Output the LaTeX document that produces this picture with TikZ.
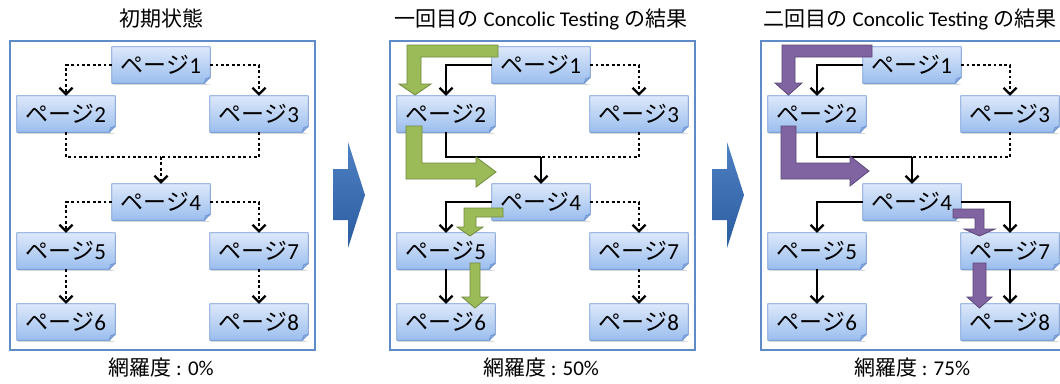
\documentclass[tikz,border=0pt]{standalone}
\usepackage{fontspec}
\setmainfont{Carlito}
\newfontfamily\cjk{Noto Sans CJK JP}
\usetikzlibrary{arrows.meta}
\definecolor{frameC}{RGB}{95,140,200}
\definecolor{pageTop}{RGB}{220,232,250}
\definecolor{pageBot}{RGB}{155,190,238}
\definecolor{pageEdge}{RGB}{110,150,212}
\definecolor{foldC}{RGB}{150,180,225}
\definecolor{bigTop}{RGB}{78,128,196}
\definecolor{bigBot}{RGB}{44,92,160}
\definecolor{grnF}{RGB}{155,187,89}
\definecolor{grnE}{RGB}{113,137,63}
\definecolor{purF}{RGB}{128,100,162}
\definecolor{purE}{RGB}{92,71,118}
\tikzset{
  frame/.style={draw=frameC, line width=1.3pt},
  pagebox/.style={rectangle, minimum width=98pt, minimum height=36pt, inner sep=0pt,
    top color=pageTop, bottom color=pageBot, font=\fontsize{23}{23}\selectfont},
  pageedge/.style={draw=pageEdge, line width=0.8pt, line join=round},
  pageshadow/.style={fill=black!16},
  solline/.style={line width=2.3pt, draw=black},
  dotline/.style={line width=2.8pt, draw=black, dash pattern=on 2.8pt off 2.6pt},
  tip/.style={-{Straight Barb[length=6.5pt,width=13pt,line width=2.2pt]}},
  title/.style={font=\fontsize{21}{21}\selectfont, inner sep=0pt},
  big/.style={top color=bigTop, bottom color=bigBot, draw=none},
  grn/.style={fill=grnF, draw=grnE, line width=0.8pt, line join=miter},
  pur/.style={fill=purF, draw=purE, line width=0.8pt, line join=miter}
}
\newcommand\pagebox[3]{%
  \coordinate (#1c) at (#2);
  \fill[pageshadow] ([shift={(-48pt,-20pt)}]#1c) rectangle ([shift={(50pt,16pt)}]#1c);
  \node[pagebox] (#1) at (#1c) {{\cjk ページ}#3};
  \fill[white] ([xshift=-6pt]#1.south east) -- ([xshift=2pt,yshift=-2pt]#1.south east) -- ([yshift=6pt]#1.south east) -- cycle;
  \draw[pageedge] (#1.north west) -- (#1.north east) -- ([yshift=6pt]#1.south east) -- ([xshift=-6pt]#1.south east) -- (#1.south west) -- cycle;
  \filldraw[pageedge, fill=foldC] ([yshift=6pt]#1.south east) -- ([xshift=-6pt]#1.south east) -- ([xshift=-4.5pt,yshift=4.5pt]#1.south east) -- cycle;
}
\newcommand\panel[1]{%
  \draw[frame] (10,41) rectangle (315,350);
  \pagebox{#1p1}{161,65}{1}
  \pagebox{#1p2}{66,114}{2}
  \pagebox{#1p3}{259,114}{3}
  \pagebox{#1p4}{161,202}{4}
  \pagebox{#1p5}{66,251}{5}
  \pagebox{#1p7}{259,251}{7}
  \pagebox{#1p6}{66,322}{6}
  \pagebox{#1p8}{259,322}{8}
  \coordinate (#1m) at (161,157);
}
\begin{document}
\begin{tikzpicture}[x=1pt,y=-1pt]
\path[use as bounding box, clip] (0,0) rectangle (1060,383);
\fill[white] (0,0) rectangle (1060,383);

% panels
\begin{scope}\panel{a}\end{scope}
\begin{scope}[xshift=380pt]\panel{b}\end{scope}
\begin{scope}[xshift=751pt]\panel{c}\end{scope}

% titles and coverage
\node[title] (ta) at (161,19) {{\cjk 初期状態}};
\node[title] (tb) at (541,19) {{\cjk 一回目の} Concolic Testing {\cjk の結果}};
\node[title] (tc) at (910,19) {{\cjk 二回目の} Concolic Testing {\cjk の結果}};
\node[title] (ra) at (161,368) {{\cjk 網羅度} : 0\%};
\node[title] (rb) at (541,368) {{\cjk 網羅度} : 50\%};
\node[title] (rc) at (912,368) {{\cjk 網羅度} : 75\%};

% panel a connectors
\draw[dotline, tip] (ap1.west) -| (ap2.north);
\draw[dotline, tip] (ap1.east) -| (ap3.north);
\draw[dotline] (ap2.south) |- (am);
\draw[dotline] (ap3.south) |- (am);
\draw[dotline, tip] (am) -- (ap4.north);
\draw[dotline, tip] (ap4.west) -| (ap5.north);
\draw[dotline, tip] (ap4.east) -| (ap7.north);
\draw[dotline, tip] (ap5.south) -- (ap6.north);
\draw[dotline, tip] (ap7.south) -- (ap8.north);

% panel b connectors
\draw[solline, tip] (bp1.west) -| (bp2.north);
\draw[dotline, tip] (bp1.east) -| (bp3.north);
\draw[solline] (bp2.south) |- (bm);
\draw[dotline] (bp3.south) |- (bm);
\draw[solline, tip] (bm) -- (bp4.north);
\draw[solline, tip] (bp4.west) -| (bp5.north);
\draw[dotline, tip] (bp4.east) -| (bp7.north);
\draw[solline, tip] (bp5.south) -- (bp6.north);
\draw[dotline, tip] (bp7.south) -- (bp8.north);

% panel c connectors
\draw[solline, tip] (cp1.west) -| (cp2.north);
\draw[dotline, tip] (cp1.east) -| (cp3.north);
\draw[solline] (cp2.south) |- (cm);
\draw[dotline] (cp3.south) |- (cm);
\draw[solline, tip] (cm) -- (cp4.north);
\draw[solline, tip] (cp4.west) -| (cp5.north);
\draw[solline, tip] (cp4.east) -| (cp7.north);
\draw[solline, tip] (cp5.south) -- (cp6.north);
\draw[solline, tip] (cp7.south) -- (cp8.north);

% big arrows between panels
\path[big] (333,169) -- (348,169) -- (348,142) -- (365,195) -- (348,248) -- (348,220) -- (333,220) -- cycle;
\path[big] (712,169) -- (727,169) -- (727,142) -- (744,195) -- (727,248) -- (727,220) -- (712,220) -- cycle;

% green path arrows (panel b)
\path[grn] (498,45) -- (407,45) -- (407,84) -- (399,84) -- (415,95) -- (431,84) -- (421,84) -- (421,57) -- (498,57) -- cycle;
\path[grn] (406,126) -- (406,179) -- (476,179) -- (476,187) -- (496,172) -- (476,157) -- (476,163) -- (422,163) -- (422,126) -- cycle;
\path[grn] (503,208) -- (464,208) -- (464,227) -- (457,227) -- (470,236) -- (483,227) -- (476,227) -- (476,217) -- (503,217) -- cycle;
\path[grn] (470,263) -- (470,297) -- (462,297) -- (475,308) -- (488,297) -- (480,297) -- (480,263) -- cycle;

% purple path arrows (panel c)
\path[pur] (872,45) -- (782,45) -- (782,83) -- (775,83) -- (788.5,95) -- (802,83) -- (795,83) -- (795,57) -- (872,57) -- cycle;
\path[pur] (781,126) -- (781,179) -- (850,179) -- (850,186) -- (869,171) -- (850,156) -- (850,163) -- (796,163) -- (796,126) -- cycle;
\path[pur] (953,209) -- (984,209) -- (984,229) -- (995,229) -- (979.5,236) -- (964,229) -- (975,229) -- (975,218) -- (953,218) -- cycle;
\path[pur] (973,263) -- (973,297) -- (967,297) -- (979.5,308) -- (992,297) -- (986,297) -- (986,263) -- cycle;
\end{tikzpicture}
\end{document}
